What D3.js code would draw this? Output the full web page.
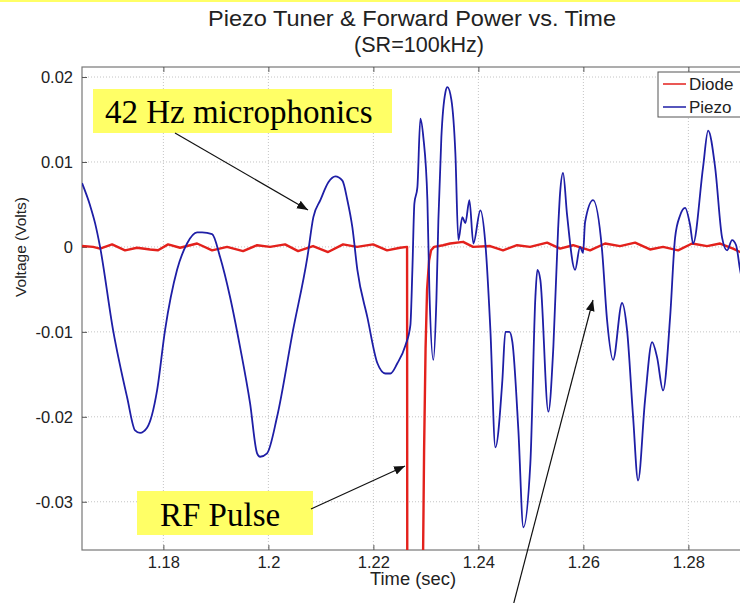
<!DOCTYPE html>
<html>
<head>
<meta charset="utf-8">
<script src="https://cdn.jsdelivr.net/npm/d3@7"></script>
<style>
  html, body { margin: 0; padding: 0; background: #fff; }
  svg { display: block; }
</style>
</head>
<body>
<svg id="chart" width="740" height="603"></svg>
<script>
// Piezo trace (time in sec, voltage in V)
const piezoT = [1.16451, 1.16603, 1.16699, 1.16794, 1.17042, 1.17309, 1.17461, 1.17556, 1.17689, 1.17880,
  1.18032, 1.18261, 1.18451, 1.18642, 1.18737, 1.18928, 1.19080, 1.19270, 1.19461, 1.19651,
  1.19785, 1.19842, 1.19975, 1.20166, 1.20470, 1.20743, 1.20857, 1.20990, 1.21143, 1.21276,
  1.21410, 1.21505, 1.21600, 1.21695, 1.21886, 1.22077, 1.22229, 1.22324, 1.22457, 1.22610,
  1.22705, 1.22743, 1.22781, 1.22838, 1.22895, 1.22952, 1.23029, 1.23067, 1.23143, 1.23200,
  1.23238, 1.23295, 1.23372, 1.23410, 1.23486, 1.23562, 1.23619, 1.23695, 1.23752, 1.23829,
  1.23905, 1.24038, 1.24133, 1.24229, 1.24324, 1.24457, 1.24514, 1.24590, 1.24648, 1.24762,
  1.24857, 1.24990, 1.25086, 1.25124, 1.25181, 1.25333, 1.25428, 1.25518, 1.25556, 1.25613,
  1.25689, 1.25842, 1.25937, 1.25994, 1.26032, 1.26185, 1.26356, 1.26451, 1.26566, 1.26737,
  1.26832, 1.26947, 1.27042, 1.27175, 1.27309, 1.27404, 1.27518, 1.27652, 1.27747, 1.27842,
  1.27937, 1.28032, 1.28090, 1.28280, 1.28376, 1.28509, 1.28642, 1.28737, 1.28833, 1.28909,
  1.28985, 1.29100];
const piezoV = [0.0075, 0.0049, 0.0028, 0.0000, -0.0098, -0.0177, -0.0216, -0.0219, -0.0213, -0.0169,
  -0.0098, -0.0027, 0.0004, 0.0017, 0.0017, 0.0015, -0.0012, -0.0059, -0.0118, -0.0184,
  -0.0243, -0.0247, -0.0243, -0.0200, -0.0098, -0.0012, 0.0035, 0.0055, 0.0076, 0.0083,
  0.0078, 0.0055, 0.0023, -0.0027, -0.0083, -0.0137, -0.0149, -0.0149, -0.0137, -0.0116,
  -0.0092, -0.0027, 0.0051, 0.0070, 0.0151, 0.0129, 0.0055, -0.0051, -0.0133, -0.0063,
  0.0031, 0.0129, 0.0182, 0.0188, 0.0173, 0.0110, 0.0008, 0.0035, 0.0028, 0.0055,
  0.0004, 0.0043, 0.0004, -0.0098, -0.0236, -0.0157, -0.0100, -0.0100, -0.0112, -0.0216,
  -0.0330, -0.0255, -0.0059, -0.0027, -0.0039, -0.0194, -0.0118, 0.0020, 0.0063, 0.0087,
  0.0038, -0.0027, 0.0000, -0.0007, 0.0029, 0.0055, -0.0004, -0.0086, -0.0133, -0.0066,
  -0.0098, -0.0200, -0.0275, -0.0180, -0.0112, -0.0130, -0.0169, -0.0083, 0.0011, 0.0037,
  0.0046, 0.0026, 0.0004, 0.0094, 0.0137, 0.0094, 0.0011, -0.0004, 0.0008, 0.0002,
  -0.0027, -0.0060];

// Diode (forward power) trace
const diodeT = [1.16451, 1.16661, 1.16794, 1.17023, 1.17270, 1.17499, 1.17747, 1.17899, 1.18090, 1.18318,
  1.18642, 1.18928, 1.19213, 1.19518, 1.19785, 1.20032, 1.20318, 1.20566, 1.20851, 1.21137,
  1.21423, 1.21690, 1.21994, 1.22261, 1.22509, 1.22642, 1.22661, 1.22937, 1.22947, 1.22966,
  1.22994, 1.23023, 1.23061, 1.23099, 1.23156, 1.23328, 1.23461, 1.23709, 1.23899, 1.24223,
  1.24470, 1.24737, 1.24985, 1.25309, 1.25556, 1.25804, 1.26128, 1.26413, 1.26699, 1.26985,
  1.27270, 1.27518, 1.27804, 1.28070, 1.28356, 1.28604, 1.28851, 1.28985, 1.29100];
const diodeV = [0.0001, 0.0000, -0.0002, 0.0003, -0.0004, -0.0001, -0.0003, -0.0004, 0.0003, -0.0001,
  0.0004, -0.0004, 0.0000, -0.0005, 0.0002, 0.0000, 0.0003, -0.0005, 0.0001, -0.0006,
  0.0003, 0.0000, 0.0003, -0.0004, -0.0001, 0.0000, -0.2000, -0.2000, -0.0360, -0.0240,
  -0.0120, -0.0050, -0.0016, -0.0004, 0.0000, 0.0002, 0.0004, 0.0006, 0.0000, 0.0001,
  -0.0004, 0.0002, 0.0000, 0.0005, -0.0002, 0.0002, -0.0004, 0.0004, 0.0001, 0.0005,
  -0.0003, 0.0000, -0.0004, 0.0004, 0.0001, 0.0004, -0.0002, -0.0006, -0.0004];

const xTicks = [1.18, 1.2, 1.22, 1.24, 1.26, 1.28];
const xTickLabels = ['1.18', '1.2', '1.22', '1.24', '1.26', '1.28'];
const yTicks = [-0.03, -0.02, -0.01, 0, 0.01, 0.02];
const yTickLabels = ['-0.03', '-0.02', '-0.01', '0', '0.01', '0.02'];
const seriesNames = ['Diode', 'Piezo'];
const seriesColors = ['#e3211c', '#1e1ea6'];

(function () {
  const SANS = '"Liberation Sans", Arial, sans-serif';
  const SERIF = '"Liberation Serif", "Times New Roman", serif';
  const svg = d3.select('#chart');
  const pLeft = 82, pTop = 67, pBottom = 550, pRight = 748.75;

  const x = d3.scaleLinear().domain([1.1645, 1.2915]).range([pLeft, pRight]);
  const y = d3.scaleLinear().domain([-0.03568, 0.02118]).range([pBottom, pTop]);

  // slide border strip
  svg.append('rect').attr('x', 0).attr('y', 0).attr('width', 740).attr('height', 2).attr('fill', '#ffff66');

  const defs = svg.append('defs');
  defs.append('clipPath').attr('id', 'plot-clip')
    .append('rect').attr('x', pLeft).attr('y', pTop).attr('width', pRight - pLeft).attr('height', pBottom - pTop);
  defs.append('marker')
    .attr('id', 'arrow')
    .attr('viewBox', '0 0 10 10')
    .attr('refX', 10).attr('refY', 5)
    .attr('markerWidth', 11).attr('markerHeight', 11)
    .attr('markerUnits', 'userSpaceOnUse')
    .attr('orient', 'auto')
    .append('path').attr('d', 'M0,1 L10,5 L0,9 Z').attr('fill', '#111');

  // grid
  const grid = svg.append('g').attr('stroke', '#c4c4c4').attr('stroke-dasharray', '1,2').attr('stroke-width', 1);
  grid.selectAll('line.gx').data(xTicks).join('line').attr('class', 'gx')
    .attr('x1', function (d) { return x(d); }).attr('x2', function (d) { return x(d); })
    .attr('y1', pTop).attr('y2', pBottom);
  grid.selectAll('line.gy').data(yTicks).join('line').attr('class', 'gy')
    .attr('x1', pLeft).attr('x2', pRight)
    .attr('y1', function (d) { return y(d); }).attr('y2', function (d) { return y(d); });

  // box
  svg.append('rect').attr('x', pLeft).attr('y', pTop).attr('width', pRight - pLeft).attr('height', pBottom - pTop)
    .attr('fill', 'none').attr('stroke', '#777').attr('stroke-width', 1.2);

  // axes with inward ticks
  const xAxis = svg.append('g').attr('transform', 'translate(0,' + pBottom + ')')
    .call(d3.axisBottom(x).tickValues(xTicks).tickSize(-5).tickPadding(6)
      .tickFormat(function (d, i) { return xTickLabels[i]; }));
  const xAxisTop = svg.append('g').attr('transform', 'translate(0,' + pTop + ')')
    .call(d3.axisTop(x).tickValues(xTicks).tickSize(-5).tickFormat(''));
  const yAxis = svg.append('g').attr('transform', 'translate(' + pLeft + ',0)')
    .call(d3.axisLeft(y).tickValues(yTicks).tickSize(-5).tickPadding(9)
      .tickFormat(function (d, i) { return yTickLabels[i]; }));
  [xAxis, xAxisTop, yAxis].forEach(function (g) {
    g.select('.domain').remove();
    g.selectAll('.tick line').attr('stroke', '#555');
    g.selectAll('.tick text').attr('font-size', 16.5).attr('fill', '#222').style('font-family', SANS);
  });

  // series
  const lineRaw = d3.line().x(function (d) { return x(d[0]); }).y(function (d) { return y(d[1]); });
  const lineSmooth = d3.line().curve(d3.curveMonotoneX)
    .x(function (d) { return x(d[0]); }).y(function (d) { return y(d[1]); });
  const plot = svg.append('g').attr('clip-path', 'url(#plot-clip)');
  plot.append('path')
    .datum(d3.zip(diodeT, diodeV))
    .attr('d', lineRaw).attr('fill', 'none')
    .attr('stroke', seriesColors[0]).attr('stroke-width', 2.4).attr('stroke-linejoin', 'round');
  plot.append('path')
    .datum(d3.zip(piezoT, piezoV))
    .attr('d', lineSmooth).attr('fill', 'none')
    .attr('stroke', seriesColors[1]).attr('stroke-width', 1.8).attr('stroke-linejoin', 'round');

  // titles and labels
  function label(xp, yp, size, str, anchor) {
    return svg.append('text').attr('x', xp).attr('y', yp).attr('text-anchor', anchor || 'middle')
      .attr('font-size', size).attr('fill', '#222').style('font-family', SANS).text(str);
  }
  label(412, 26, 22, 'Piezo Tuner & Forward Power vs. Time')
    .attr('textLength', 408).attr('lengthAdjust', 'spacingAndGlyphs');
  label(419, 52, 22, '(SR=100kHz)')
    .attr('textLength', 130).attr('lengthAdjust', 'spacingAndGlyphs');
  label(413, 585, 17.5, 'Time (sec)')
    .attr('textLength', 86).attr('lengthAdjust', 'spacingAndGlyphs');
  svg.append('text').attr('transform', 'translate(26,247) rotate(-90)').attr('text-anchor', 'middle')
    .attr('font-size', 15.5).attr('fill', '#222').style('font-family', SANS).text('Voltage (Volts)');

  // legend
  const legend = svg.append('g');
  legend.append('rect').attr('x', 658).attr('y', 72).attr('width', 100).attr('height', 45)
    .attr('fill', '#fff').attr('stroke', '#555').attr('stroke-width', 1);
  seriesNames.forEach(function (name, i) {
    const ly = 84 + i * 23;
    legend.append('line').attr('x1', 663).attr('x2', 686).attr('y1', ly).attr('y2', ly)
      .attr('stroke', seriesColors[i]).attr('stroke-width', 1.5);
    label(689, ly + 6, 17, name, 'start');
  });

  // annotations
  const note = svg.append('g');
  note.append('rect').attr('x', 93).attr('y', 89).attr('width', 299).attr('height', 44).attr('fill', '#ffff66');
  note.append('text').attr('x', 105).attr('y', 123).attr('font-size', 33)
    .style('font-family', SERIF).attr('fill', '#000')
    .text('42 Hz microphonics');
  note.append('rect').attr('x', 137).attr('y', 491).attr('width', 176).attr('height', 44).attr('fill', '#ffff66');
  note.append('text').attr('x', 160).attr('y', 526).attr('font-size', 33)
    .style('font-family', SERIF).attr('fill', '#000')
    .text('RF Pulse');

  const arrows = [[175, 133, 308, 210], [311, 509, 405, 466], [513, 606, 593, 300]];
  note.selectAll('line.arrow').data(arrows).join('line').attr('class', 'arrow')
    .attr('x1', function (d) { return d[0]; }).attr('y1', function (d) { return d[1]; })
    .attr('x2', function (d) { return d[2]; }).attr('y2', function (d) { return d[3]; })
    .attr('stroke', '#111').attr('stroke-width', 1.2).attr('marker-end', 'url(#arrow)');
})();
</script>
</body>
</html>
